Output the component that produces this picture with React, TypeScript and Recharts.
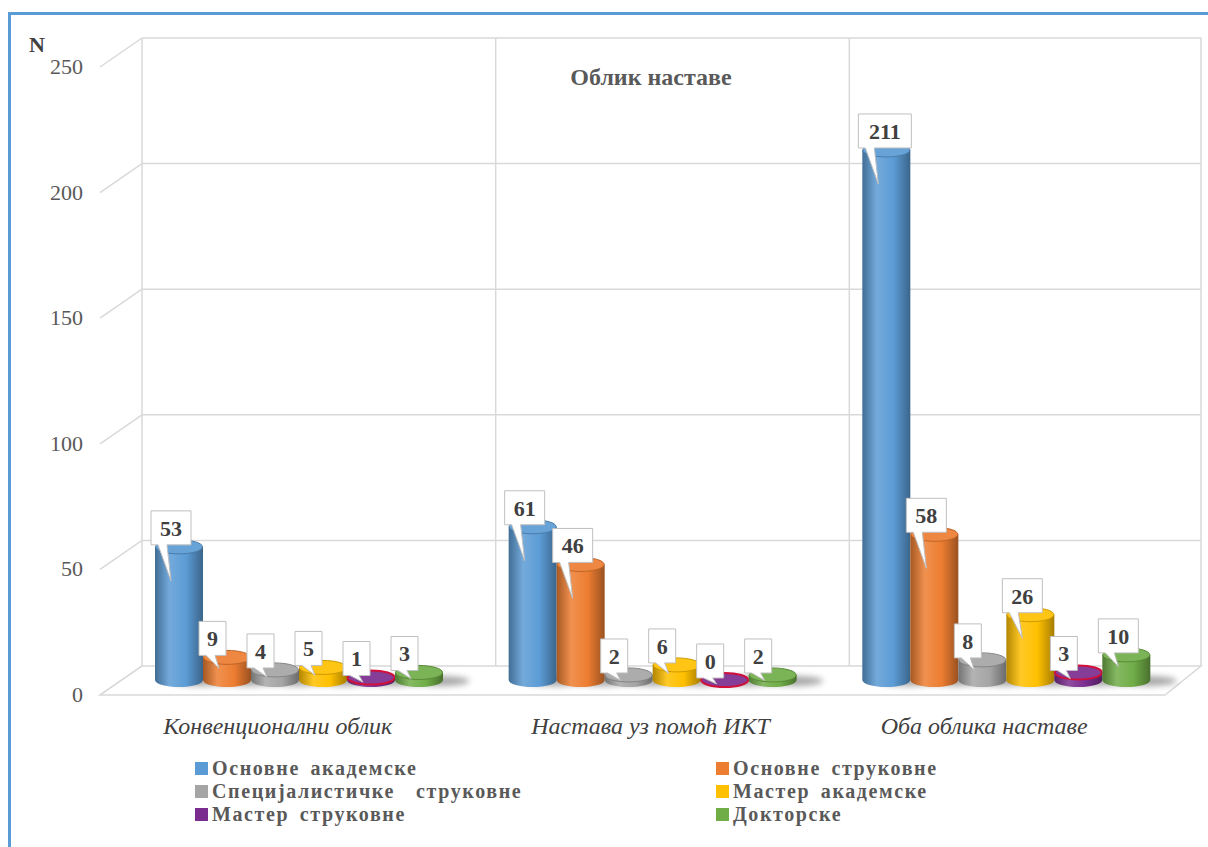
import { Bar, BarChart, CartesianGrid, Customized, LabelList, Legend, XAxis, YAxis } from "recharts";

const categories = ["Конвенционални облик", "Настава уз помоћ ИКТ", "Оба облика наставе"];
const osnovneAkademske = [53, 61, 211];
const osnovneStrukovne = [9, 46, 58];
const specijalisticke = [4, 2, 8];
const masterAkademske = [5, 6, 26];
const masterStrukovne = [1, 0, 3];
const doktorske = [3, 2, 10];
const yTicks = [0, 50, 100, 150, 200, 250];

const series = [
  { key: "oa", name: "Основне академске", color: "#5b9bd5", values: osnovneAkademske },
  { key: "os", name: "Основне струковне", color: "#ed7d31", values: osnovneStrukovne },
  { key: "ss", name: "Специјалистичке  струковне", color: "#a5a5a5", values: specijalisticke },
  { key: "ma", name: "Мастер академске", color: "#ffc000", values: masterAkademske },
  { key: "ms", name: "Мастер струковне", color: "#7b2c8f", values: masterStrukovne },
  { key: "dr", name: "Докторске", color: "#70ad47", values: doktorske },
];

const data = categories.map((name, i) => {
  const row: Record<string, string | number> = { name };
  series.forEach((s) => (row[s.key] = s.values[i]));
  return row;
});

const SERIF = '"Liberation Serif", "DejaVu Serif", serif';
const GRID = "#d9d9d9";
// 3D depth of the box: back wall offset and front edge offset
const BACK = { dx: 21, dy: -14 };
const FRONT = { dx: -21, dy: 15 };
// the perspective pushes the category names a little to the left
const labelShift = [-20, -1, -21];

function shade(hex: string, amt: number) {
  const n = parseInt(hex.slice(1), 16);
  const c = [(n >> 16) & 255, (n >> 8) & 255, n & 255].map((v) =>
    Math.round(amt >= 0 ? v + (255 - v) * amt : v * (1 + amt))
  );
  return `rgb(${c.join(",")})`;
}

function GridLine(p: any) {
  const { x1, x2, y1 } = p;
  const top = p.y;
  const isFloor = Math.abs(y1 - (p.y + p.height)) < 1;
  const bx1 = x1 + BACK.dx;
  const bx2 = x2 + BACK.dx - 2;
  const by = y1 + BACK.dy;
  const band = (x2 - x1) / categories.length;
  return (
    <g>
      {isFloor && (
        <>
          <polygon
            points={`${x1 + FRONT.dx},${y1 + FRONT.dy} ${x2 - 17},${y1 + FRONT.dy} ${bx2},${by} ${bx1},${by}`}
            fill="#fff"
            stroke={GRID}
            strokeWidth={1.5}
          />
          {categories.map((_, i) => (
            <line key={i} x1={bx1 + band * i} x2={bx1 + band * i} y1={top + BACK.dy} y2={by} stroke={GRID} strokeWidth={1.5} />
          ))}
          <line x1={bx2} x2={bx2} y1={top + BACK.dy} y2={by} stroke={GRID} strokeWidth={1.5} />
        </>
      )}
      {!isFloor && <line x1={bx1} x2={bx2} y1={by} y2={by} stroke={GRID} strokeWidth={1.5} />}
      <line x1={x1 + FRONT.dx} y1={y1 + FRONT.dy} x2={bx1} y2={by} stroke={GRID} strokeWidth={1.5} />
    </g>
  );
}

function Cylinder(props: any) {
  const { x, y, width, height, fill, dataKey } = props;
  const rx = width / 2;
  const ry = 7;
  const bottom = y + height;
  const gid = `cyl-${dataKey}`;
  const edge = dataKey === "ms" ? "#d0103a" : shade(fill, -0.2);
  return (
    <g>
      <defs>
        <linearGradient id={gid} x1="0" x2="1" y1="0" y2="0">
          <stop offset="0" stopColor={shade(fill, -0.3)} />
          <stop offset="0.3" stopColor={shade(fill, 0.15)} />
          <stop offset="0.65" stopColor={fill} />
          <stop offset="1" stopColor={shade(fill, -0.35)} />
        </linearGradient>
        <filter id="shadowBlur" x="-50%" y="-200%" width="200%" height="500%">
          <feGaussianBlur stdDeviation="3" />
        </filter>
      </defs>
      <ellipse cx={x + width * 0.95} cy={bottom + 1} rx={width * 0.6} ry={5} fill="#000" opacity={0.35} filter="url(#shadowBlur)" />
      <path
        d={`M${x},${y} L${x},${bottom} A${rx},${ry} 0 0 0 ${x + width},${bottom} L${x + width},${y} Z`}
        fill={`url(#${gid})`}
      />
      <ellipse cx={x + rx} cy={y} rx={rx - 0.5} ry={ry} fill={shade(fill, 0.08)} stroke={edge} strokeWidth={dataKey === "ms" ? 2 : 1} />
    </g>
  );
}

function Callout(props: any) {
  const { x, y, height, value } = props;
  const text = String(value);
  const bw = 14 + 13 * text.length;
  const bh = 34;
  const bx = x - 4;
  const by = y - bh - 2;
  const tipX = bx + 20;
  const tipY = by + bh + Math.min(36, 6 + height * 0.3);
  return (
    <g>
      <path
        d={`M${bx},${by} H${bx + bw} V${by + bh} H${bx + 16} L${tipX},${tipY} L${bx + 7},${by + bh} H${bx} Z`}
        fill="#fff"
        stroke="#bfbfbf"
        strokeWidth={1}
      />
      <text x={bx + bw / 2} y={by + bh / 2 + 8} textAnchor="middle" fontFamily={SERIF} fontWeight="bold" fontSize={22} fill="#404040">
        {text}
      </text>
    </g>
  );
}

function YTick(props: any) {
  const { x, y, payload } = props;
  return (
    <text x={x - 30} y={y + 22} textAnchor="end" fontFamily={SERIF} fontSize={22} fill="#595959">
      {payload.value}
    </text>
  );
}

function XTick(props: any) {
  const { x, y, payload, index } = props;
  return (
    <text x={x + (labelShift[index] ?? 0)} y={y + 46} textAnchor="middle" fontFamily={SERIF} fontStyle="italic" fontSize={24} fill="#404040">
      {payload.value}
    </text>
  );
}

function Titles() {
  return (
    <g fontFamily={SERIF} fontWeight="bold">
      <text x={29} y={52} fontSize={22} fill="#404040">N</text>
      <text x={651} y={85} fontSize={24} textAnchor="middle" fill="#595959">Облик наставе</text>
    </g>
  );
}

function LegendBox() {
  return (
    <div
      style={{
        display: "grid",
        gridTemplateColumns: "521px 300px",
        fontFamily: SERIF,
        fontWeight: "bold",
        fontSize: 20,
        color: "#595959",
        lineHeight: "23px",
        letterSpacing: 1.6,
        wordSpacing: 4,
      }}
    >
      {series.map((s) => (
        <div key={s.key} style={{ display: "flex", alignItems: "center", whiteSpace: "pre", height: 23 }}>
          <span style={{ width: 13, height: 13, background: s.color, marginRight: 4, display: "inline-block" }} />
          {s.name}
        </div>
      ))}
    </div>
  );
}

export default function App() {
  return (
    <div style={{ position: "absolute", left: 0, top: 0, width: 1208, height: 847, background: "#fff" }}>
      <div
        style={{
          position: "absolute",
          left: 8,
          top: 12,
          width: 1200,
          height: 835,
          borderTop: "3px solid #5b9bd5",
          borderLeft: "3px solid #5b9bd5",
        }}
      />
      <BarChart
        width={1208}
        height={847}
        data={data}
        margin={{ top: 52, right: 26, left: 61, bottom: 137 }}
        barCategoryGap={34}
        barGap={0}
      >
        <CartesianGrid horizontal={(p: any) => <GridLine key={p.key} {...p} />} vertical={false} />
        <XAxis dataKey="name" axisLine={false} tickLine={false} tick={<XTick />} interval={0} height={30} />
        <YAxis
          domain={[0, 250]}
          ticks={yTicks}
          axisLine={false}
          tickLine={false}
          tick={<YTick />}
          width={60}
          interval={0}
        />
        <Customized component={<Titles />} />
        {series.map((s) => (
          <Bar key={s.key} dataKey={s.key} name={s.name} fill={s.color} shape={<Cylinder />} isAnimationActive={false}>
            <LabelList dataKey={s.key} content={<Callout />} />
          </Bar>
        ))}
        <Legend
          layout="vertical"
          align="center"
          verticalAlign="middle"
          content={<LegendBox />}
          wrapperStyle={{ position: "absolute", left: 195, top: 757, width: 900 }}
        />
      </BarChart>
    </div>
  );
}
